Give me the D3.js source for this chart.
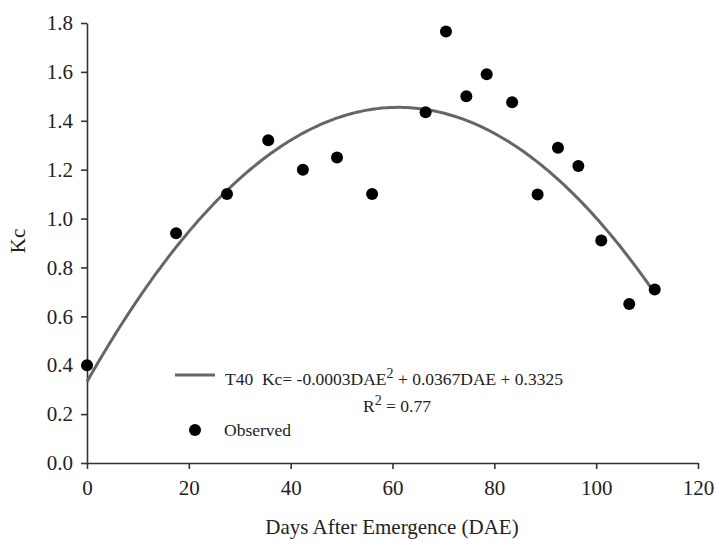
<!DOCTYPE html>
<html>
<head>
<meta charset="utf-8">
<script src="https://cdn.jsdelivr.net/npm/d3@7"></script>
<style>
  body { margin: 0; background: #fff; }
  svg text { font-family: "Liberation Serif", "Times New Roman", serif; fill: #222; }
</style>
</head>
<body>
<div id="chart"></div>
<script>
// observed Kc values
const dae = [0, 17.5, 27.5, 35.6, 42.4, 49.1, 56, 66.5, 70.5, 74.5, 78.5, 83.5, 88.5, 92.5, 96.5, 101, 106.5, 111.5];
const kc = [0.40, 0.94, 1.10, 1.32, 1.20, 1.25, 1.10, 1.435, 1.765, 1.50, 1.59, 1.476, 1.098, 1.29, 1.215, 0.91, 0.65, 0.71];
// fitted curve coefficients (T40)
const coef = [-0.0003, 0.0367, 0.3325];
const fitRange = [0, 111];
const xTicks = [0, 20, 40, 60, 80, 100, 120];
const yTicks = [0, 0.2, 0.4, 0.6, 0.8, 1.0, 1.2, 1.4, 1.6, 1.8];

const width = 716, height = 540;
const svg = d3.select("#chart").append("svg")
  .attr("width", width).attr("height", height);

const x = d3.scaleLinear().domain([0, 120]).range([87, 698]);
const y = d3.scaleLinear().domain([0, 1.8]).range([463, 23]);

// axes
const xAxis = svg.append("g")
  .attr("transform", `translate(0,${y(0)})`)
  .call(d3.axisBottom(x).tickValues(xTicks).tickSize(6).tickPadding(11).tickSizeOuter(0));
const yAxis = svg.append("g")
  .attr("transform", `translate(${x(0)},0)`)
  .call(d3.axisLeft(y).tickValues(yTicks).tickFormat(d3.format(".1f")).tickSize(6).tickPadding(8).tickSizeOuter(0));

[xAxis, yAxis].forEach(g => {
  g.select(".domain").attr("stroke", "#333").attr("stroke-width", 1.6);
  g.selectAll(".tick line").attr("stroke", "#333").attr("stroke-width", 1.6);
  g.selectAll(".tick text").attr("font-size", 21).attr("fill", "#222");
});

// fitted line
const fit = d3.range(fitRange[0], fitRange[1] + 0.01, 0.5).map(d => [d, coef[0] * d * d + coef[1] * d + coef[2]]);
svg.append("path")
  .datum(fit)
  .attr("fill", "none")
  .attr("stroke", "#666")
  .attr("stroke-width", 3)
  .attr("d", d3.line().x(d => x(d[0])).y(d => y(d[1])));

// observed points
svg.selectAll("circle.obs")
  .data(dae)
  .enter()
  .append("circle")
  .attr("class", "obs")
  .attr("cx", d => x(d))
  .attr("cy", (d, i) => y(kc[i]))
  .attr("r", 6)
  .attr("fill", "#000");

// legend
svg.append("line")
  .attr("x1", 175).attr("x2", 215).attr("y1", 375).attr("y2", 375)
  .attr("stroke", "#666").attr("stroke-width", 3);
const eq = svg.append("text").attr("x", 225).attr("y", 385).attr("font-size", 17.5);
eq.append("tspan").text("T40\u00a0\u00a0Kc= -0.0003DAE");
eq.append("tspan").attr("baseline-shift", "super").attr("font-size", 14).text("2");
eq.append("tspan").text(" + 0.0367DAE + 0.3325");

const r2 = svg.append("text").attr("x", 363).attr("y", 412).attr("font-size", 17.5);
r2.append("tspan").text("R");
r2.append("tspan").attr("baseline-shift", "super").attr("font-size", 14).text("2");
r2.append("tspan").text(" = 0.77");

svg.append("circle").attr("cx", 195).attr("cy", 430).attr("r", 6).attr("fill", "#000");
svg.append("text").attr("x", 224).attr("y", 436).attr("font-size", 17.5).text("Observed");

// axis titles
svg.append("text")
  .attr("x", 392).attr("y", 534)
  .attr("text-anchor", "middle")
  .attr("font-size", 21)
  .text("Days After Emergence (DAE)");

svg.append("text")
  .attr("transform", "translate(25,241) rotate(-90)")
  .attr("text-anchor", "middle")
  .attr("font-size", 21)
  .text("Kc");
</script>
</body>
</html>
